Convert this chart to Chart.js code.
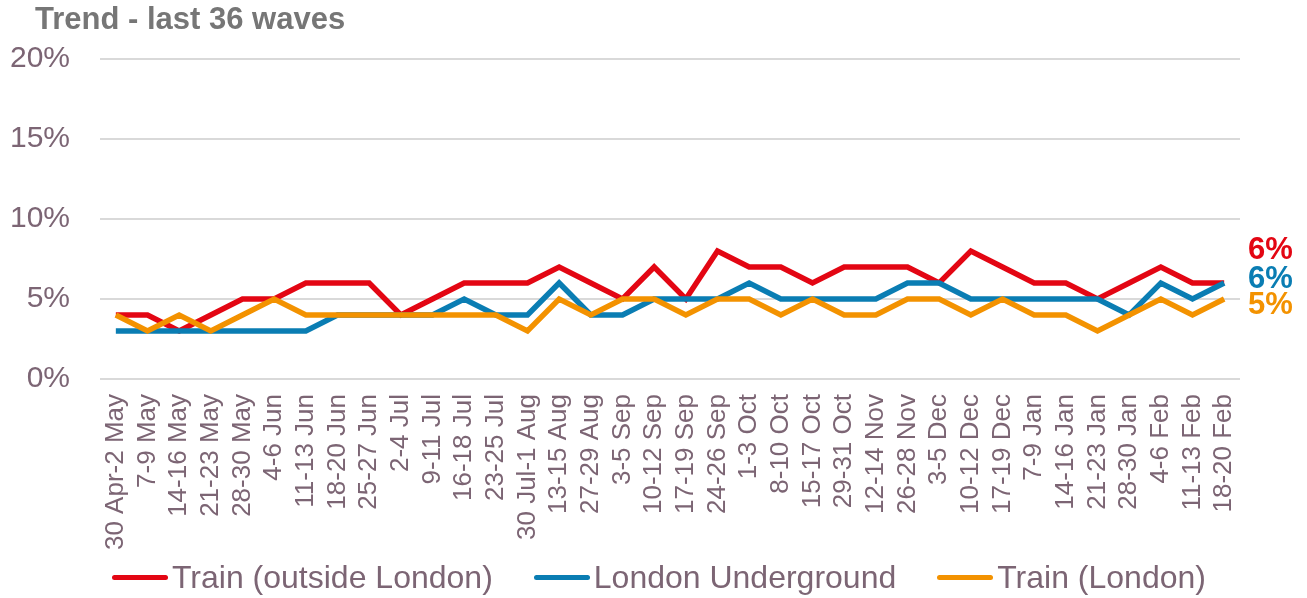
<!DOCTYPE html>
<html>
<head>
<meta charset="utf-8">
<script src="https://cdn.jsdelivr.net/npm/chart.js@4.4.1/dist/chart.umd.min.js"></script>
<style>
    body { margin: 0; background: #fff; font-family: "Liberation Sans", Arial, sans-serif; }
    #wrap { position: relative; width: 1307px; height: 598px; overflow: hidden; }
    #titulo { position: absolute; left: 35px; top: 3px; font-size: 31px; font-weight: bold; color: #767676; line-height: 32px; white-space: nowrap; }
    #legenda { position: absolute; left: 112px; top: 559px; display: flex; align-items: center; }
    .item { display: flex; align-items: center; margin-right: 41px; font-size: 32px; line-height: 36px; color: #7c6574; white-space: nowrap; }
    .amostra { width: 56px; height: 5px; border-radius: 3px; margin-right: 4px; }
</style>
</head>
<body>
<div id="wrap">
    <canvas id="grafico" width="1307" height="598"></canvas>
    <div id="titulo">Trend - last 36 waves</div>
    <div id="legenda"></div>
</div>
<script>
var ondas = ["30 Apr-2 May", "7-9 May", "14-16 May", "21-23 May", "28-30 May", "4-6 Jun", "11-13 Jun", "18-20 Jun", "25-27 Jun",
    "2-4 Jul", "9-11 Jul", "16-18 Jul", "23-25 Jul", "30 Jul-1 Aug", "13-15 Aug", "27-29 Aug", "3-5 Sep", "10-12 Sep", "17-19 Sep",
    "24-26 Sep", "1-3 Oct", "8-10 Oct", "15-17 Oct", "29-31 Oct", "12-14 Nov", "26-28 Nov", "3-5 Dec", "10-12 Dec", "17-19 Dec",
    "7-9 Jan", "14-16 Jan", "21-23 Jan", "28-30 Jan", "4-6 Feb", "11-13 Feb", "18-20 Feb"];

var trainOutside = [4, 4, 3, 4, 5, 5, 6, 6, 6, 4, 5, 6, 6, 6, 7, 6, 5, 7, 5, 8, 7, 7, 6, 7, 7, 7, 6, 8, 7, 6, 6, 5, 6, 7, 6, 6];
var underground = [3, 3, 3, 3, 3, 3, 3, 4, 4, 4, 4, 5, 4, 4, 6, 4, 4, 5, 5, 5, 6, 5, 5, 5, 5, 6, 6, 5, 5, 5, 5, 5, 4, 6, 5, 6];
var trainLondon = [4, 3, 4, 3, 4, 5, 4, 4, 4, 4, 4, 4, 4, 3, 5, 4, 5, 5, 4, 5, 5, 4, 5, 4, 4, 5, 5, 4, 5, 4, 4, 3, 4, 5, 4, 5];

var nomesSeries = ["Train (outside London)", "London Underground", "Train (London)"];
var ticksY = [0, 5, 10, 15, 20];

var corTexto = '#7c6574';
var cores = ['#e30613', '#0a7db3', '#f39200'];
var fonte = '"Liberation Sans", Arial, sans-serif';

// rotulo do ultimo valor a direita de cada linha
var rotuloFinal = {
    id: 'rotuloFinal',
    afterDatasetsDraw: function (chart, args, opts) {
        const ctx = chart.ctx;
        ctx.save();
        ctx.font = 'bold 31px ' + fonte;
        ctx.textAlign = 'left';
        ctx.textBaseline = 'middle';
        chart.data.datasets.forEach((ds, i) => {
            const meta = chart.getDatasetMeta(i);
            const ultimo = meta.data[meta.data.length - 1];
            ctx.fillStyle = ds.borderColor;
            ctx.fillText(ds.data[ds.data.length - 1] + '%', chart.chartArea.right + 8, ultimo.y + opts.deslocamentos[i]);
        });
        ctx.restore();
    }
};

var montarDataset = function (nome, valores, cor, ordem) {
    return {
        label: nome,
        data: valores,
        borderColor: cor,
        backgroundColor: cor,
        borderWidth: 5.5,
        pointRadius: 0,
        tension: 0,
        fill: false,
        order: ordem
    };
};

var ctx = document.getElementById('grafico').getContext('2d');
var grafico = new Chart(ctx, {
    type: 'line',
    data: {
        labels: ondas,
        datasets: [
            montarDataset(nomesSeries[0], trainOutside, cores[0], 3),
            montarDataset(nomesSeries[1], underground, cores[1], 2),
            montarDataset(nomesSeries[2], trainLondon, cores[2], 1)
        ]
    },
    options: {
        responsive: false,
        animation: false,
        layout: { padding: { top: 59, right: 67, bottom: 45, left: 0 } },
        plugins: {
            legend: { display: false },
            tooltip: { enabled: false },
            rotuloFinal: { deslocamentos: [-33, -4, 6] }
        },
        scales: {
            x: {
                offset: true,
                grid: { display: false },
                border: { display: false },
                ticks: {
                    autoSkip: false,
                    minRotation: 90,
                    maxRotation: 90,
                    padding: 7,
                    color: corTexto,
                    font: { family: fonte, size: 26 }
                },
                afterFit: function (scale) { scale.height = 174; }
            },
            y: {
                min: ticksY[0],
                max: ticksY[ticksY.length - 1],
                afterBuildTicks: function (scale) {
                    scale.ticks = ticksY.map(v => ({ value: v }));
                },
                grid: { color: '#d9d9d9', lineWidth: 2, drawTicks: false },
                border: { display: false },
                ticks: {
                    padding: 30,
                    color: corTexto,
                    font: { family: fonte, size: 30 },
                    callback: v => v + '%'
                },
                afterFit: function (scale) { scale.width = 100; }
            }
        }
    },
    plugins: [rotuloFinal]
});

// legenda em html com as cores das series
var legenda = document.getElementById('legenda');
grafico.data.datasets.forEach(ds => {
    const item = document.createElement('div');
    item.className = 'item';
    item.innerHTML = `<span class="amostra" style="background:${ds.borderColor}"></span>${ds.label}`;
    legenda.appendChild(item);
});
</script>
</body>
</html>
